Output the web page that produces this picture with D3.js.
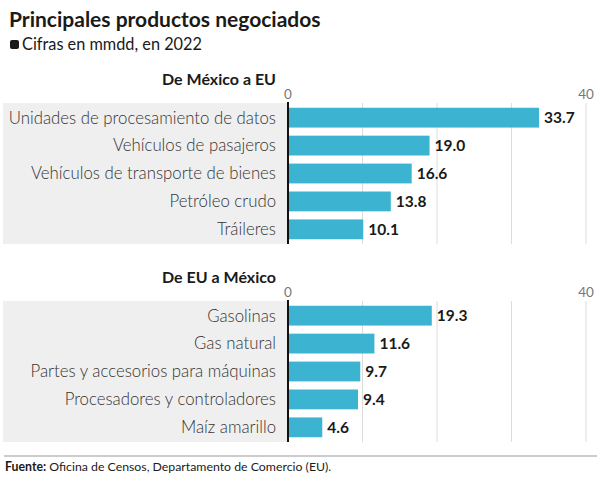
<!DOCTYPE html>
<html>
<head>
<meta charset="utf-8">
<script src="https://cdn.jsdelivr.net/npm/d3@7"></script>
<style>
  body { margin: 0; background: #fff; }
  svg { display: block; font-family: Lato, "Noto Sans", sans-serif; }
</style>
</head>
<body>
<svg id="chart" width="600" height="482"></svg>
<script>
// data (mmdd, 2022)
var mxCategories = ["Unidades de procesamiento de datos", "Vehículos de pasajeros",
  "Vehículos de transporte de bienes", "Petróleo crudo", "Tráileres"];
var mxValues = [33.7, 19.0, 16.6, 13.8, 10.1];
var usCategories = ["Gasolinas", "Gas natural", "Partes y accesorios para máquinas",
  "Procesadores y controladores", "Maíz amarillo"];
var usValues = [19.3, 11.6, 9.7, 9.4, 4.6];
var gridTicks = [0, 10, 20, 30, 40];
var tickLabels = [0, 40];

var svg = d3.select("#chart");
var barColor = "#3db3d2";

var x = d3.scaleLinear().domain([0, 40]).range([288, 586]);

// title + subtitle
svg.append("text")
  .attr("x", 9).attr("y", 27)
  .attr("font-size", 21).attr("font-weight", 700).attr("fill", "#1a1a1a")
  .text("Principales productos negociados");
svg.append("rect")
  .attr("x", 10).attr("y", 40).attr("width", 9).attr("height", 9).attr("rx", 2)
  .attr("fill", "#1a1a1a");
svg.append("text")
  .attr("x", 22).attr("y", 50)
  .attr("font-size", 16.3).attr("fill", "#1a1a1a")
  .text("Cifras en mmdd, en 2022");

function panel(title, cats, vals, top) {
  var g = svg.append("g");
  var y = d3.scaleBand().domain(cats).range([top, top + 141])
    .paddingInner(0.29).paddingOuter(0.17);

  g.append("text")
    .attr("x", 276).attr("y", top - 18)
    .attr("text-anchor", "end").attr("font-size", 16).attr("font-weight", 700)
    .attr("fill", "#1a1a1a")
    .text(title);

  // grey band behind labels
  g.append("rect")
    .attr("x", 3).attr("y", top).attr("width", x(0) - 3).attr("height", 141)
    .attr("fill", "#efefef");

  g.selectAll(".grid").data(gridTicks.slice(1)).enter()
    .append("line")
    .attr("x1", d => x(d)).attr("x2", d => x(d))
    .attr("y1", top).attr("y2", top + 141)
    .attr("stroke", "#dcdcdc").attr("stroke-width", 1);

  g.selectAll(".tick").data(tickLabels).enter()
    .append("text")
    .attr("x", d => x(d)).attr("y", top - 4)
    .attr("text-anchor", "middle").attr("font-size", 13.5).attr("fill", "#777")
    .text(d => d);

  g.selectAll(".bar").data(vals).enter()
    .append("rect")
    .attr("x", x(0)).attr("y", (d, i) => y(cats[i]))
    .attr("width", d => x(d) - x(0)).attr("height", y.bandwidth())
    .attr("fill", barColor);

  g.selectAll(".cat").data(cats).enter()
    .append("text")
    .attr("x", 276).attr("y", d => y(d) + y.bandwidth() / 2)
    .attr("dy", "0.35em").attr("text-anchor", "end")
    .attr("font-size", 16.8).attr("font-weight", 300).attr("fill", "#333")
    .text(d => d);

  g.selectAll(".val").data(vals).enter()
    .append("text")
    .attr("x", d => x(d) + 5).attr("y", (d, i) => y(cats[i]) + y.bandwidth() / 2)
    .attr("dy", "0.36em")
    .attr("font-size", 15.5).attr("font-weight", 700).attr("fill", "#1a1a1a")
    .text(d => d.toFixed(1));

  g.append("line")
    .attr("x1", x(0)).attr("x2", x(0))
    .attr("y1", top - 1).attr("y2", top + 141)
    .attr("stroke", "#111").attr("stroke-width", 2);
}

panel("De México a EU", mxCategories, mxValues, 103);
panel("De EU a México", usCategories, usValues, 301);

// footer
svg.append("line")
  .attr("x1", 4).attr("x2", 597).attr("y1", 456).attr("y2", 456)
  .attr("stroke", "#999").attr("stroke-width", 1);
var foot = svg.append("text")
  .attr("x", 5).attr("y", 471)
  .attr("font-size", 12.3).attr("fill", "#1a1a1a");
foot.append("tspan").attr("font-weight", 700).text("Fuente:");
foot.append("tspan").text(" Oficina de Censos, Departamento de Comercio (EU).");
</script>
</body>
</html>
